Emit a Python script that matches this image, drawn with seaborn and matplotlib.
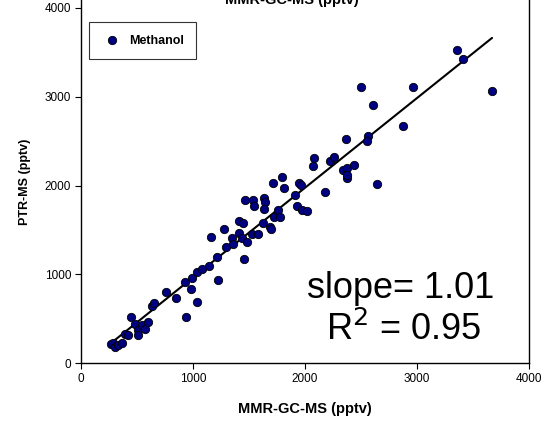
import numpy as np
import pandas as pd
import matplotlib
matplotlib.use("Agg")
import matplotlib.pyplot as plt
import seaborn as sns

# Methanol mixing ratios: MMR-GC-MS (x) vs PTR-MS (y), pptv
gcms = [265, 288, 304, 333, 363, 393, 422, 444, 482, 512, 512, 542, 571, 601,
        631, 652, 756, 846, 938, 929, 982, 994, 1033, 1038, 1078, 1143, 1161,
        1217, 1226, 1277, 1292, 1346, 1360, 1411, 1413, 1449, 1440, 1458, 1479,
        1464, 1529, 1538, 1547, 1578, 1628, 1634, 1640, 1637, 1688, 1699, 1717,
        1723, 1759, 1777, 1797, 1815, 1911, 1926, 1946, 1962, 1971, 2015, 2074,
        2083, 2179, 2223, 2259, 2342, 2372, 2372, 2372, 2438, 2366, 2500, 2560,
        2551, 2604, 2640, 2878, 2962, 3354, 3408, 3670]
ptrms = [219, 226, 188, 207, 226, 328, 320, 521, 445, 377, 320, 434, 385, 460,
         649, 680, 804, 736, 516, 917, 838, 963, 694, 1031, 1065, 1094, 1427,
         1200, 935, 1510, 1306, 1408, 1348, 1472, 1600, 1578, 1416, 1170, 1362,
         1841, 1461, 1838, 1773, 1461, 1578, 1861, 1819, 1736, 1529, 1510, 2027,
         1649, 1728, 1649, 2095, 1974, 1895, 1767, 2027, 2011, 1721, 1717, 2220,
         2310, 1925, 2276, 2325, 2181, 2197, 2087, 2121, 2234, 2521, 3106, 2555,
         2503, 2911, 2023, 2673, 3106, 3529, 3431, 3061]

slope = 1.01
r_squared = 0.95
x_ticks = [0, 1000, 2000, 3000, 4000]
y_ticks = [0, 1000, 2000, 3000, 4000]

df = pd.DataFrame({"gcms": gcms, "ptrms": ptrms})

sns.set_theme(style="white")
plt.rcParams["font.family"] = ["Liberation Sans", "DejaVu Sans"]
plt.rcParams["text.color"] = "black"
plt.rcParams["axes.labelcolor"] = "black"

fig = plt.figure(figsize=(5.44, 4.23), dpi=100)
W, H = 544, 423
left_px, right_px, bottom_px = 81, 529, 363.3
ax_w = right_px - left_px
ax = fig.add_axes([left_px / W, 1 - bottom_px / H, ax_w / W, bottom_px / H])

sns.scatterplot(data=df, x="gcms", y="ptrms", ax=ax, s=36, color="#000080",
                edgecolor="black", linewidth=0.6, label="Methanol", zorder=3)

# fitted line using the stated slope through the data centroid
intercept = np.mean(ptrms) - slope * np.mean(gcms)
xfit = np.array([min(gcms), max(gcms)])
sns.lineplot(x=xfit, y=slope * xfit + intercept, ax=ax, color="black",
             linewidth=1.5, zorder=2, legend=False)

ax.set_xlim(0, 4000)
ax.set_ylim(0, 4000 * bottom_px / (bottom_px - 8))
ax.set_xticks(x_ticks)
ax.set_yticks(y_ticks)
ax.tick_params(axis="both", direction="out", length=4, width=0.8,
               labelsize=8.5, colors="black", pad=3,
               bottom=True, left=True, top=False, right=False)
for side in ["left", "bottom", "right"]:
    ax.spines[side].set_color("black")
    ax.spines[side].set_linewidth(1.0)
ax.spines["top"].set_visible(False)

ax.set_xlabel("MMR-GC-MS (pptv)", fontsize=10.5, fontweight="bold",
              labelpad=12, color="black")
ax.set_ylabel("PTR-MS (pptv)", fontsize=9, fontweight="bold",
              labelpad=10, color="black")

fig.text(292 / W, 1 - 4 / H, "MMR-GC-MS (pptv)", fontsize=10.5,
         fontweight="bold", ha="center", va="baseline", color="black")

ax.text((401 - left_px) / ax_w, (bottom_px - 288) / bottom_px, f"slope= {slope:.2f}",
        transform=ax.transAxes, fontsize=26, ha="center", va="center", color="black")
ax.text((404 - left_px) / ax_w, (bottom_px - 330) / bottom_px, f"R$^2$ = {r_squared:.2f}",
        transform=ax.transAxes, fontsize=26, ha="center", va="center", color="black")

leg = ax.legend(loc="upper left", bbox_to_anchor=(8 / ax_w, (bottom_px - 22) / bottom_px),
                frameon=True, fancybox=False, edgecolor="black",
                prop={"weight": "bold", "size": 9}, borderpad=1.0,
                handletextpad=0.6, handlelength=1.6, borderaxespad=0)
leg.get_frame().set_linewidth(0.8)
for t in leg.get_texts():
    t.set_color("black")

fig.savefig("out.png", dpi=100, facecolor="white")
